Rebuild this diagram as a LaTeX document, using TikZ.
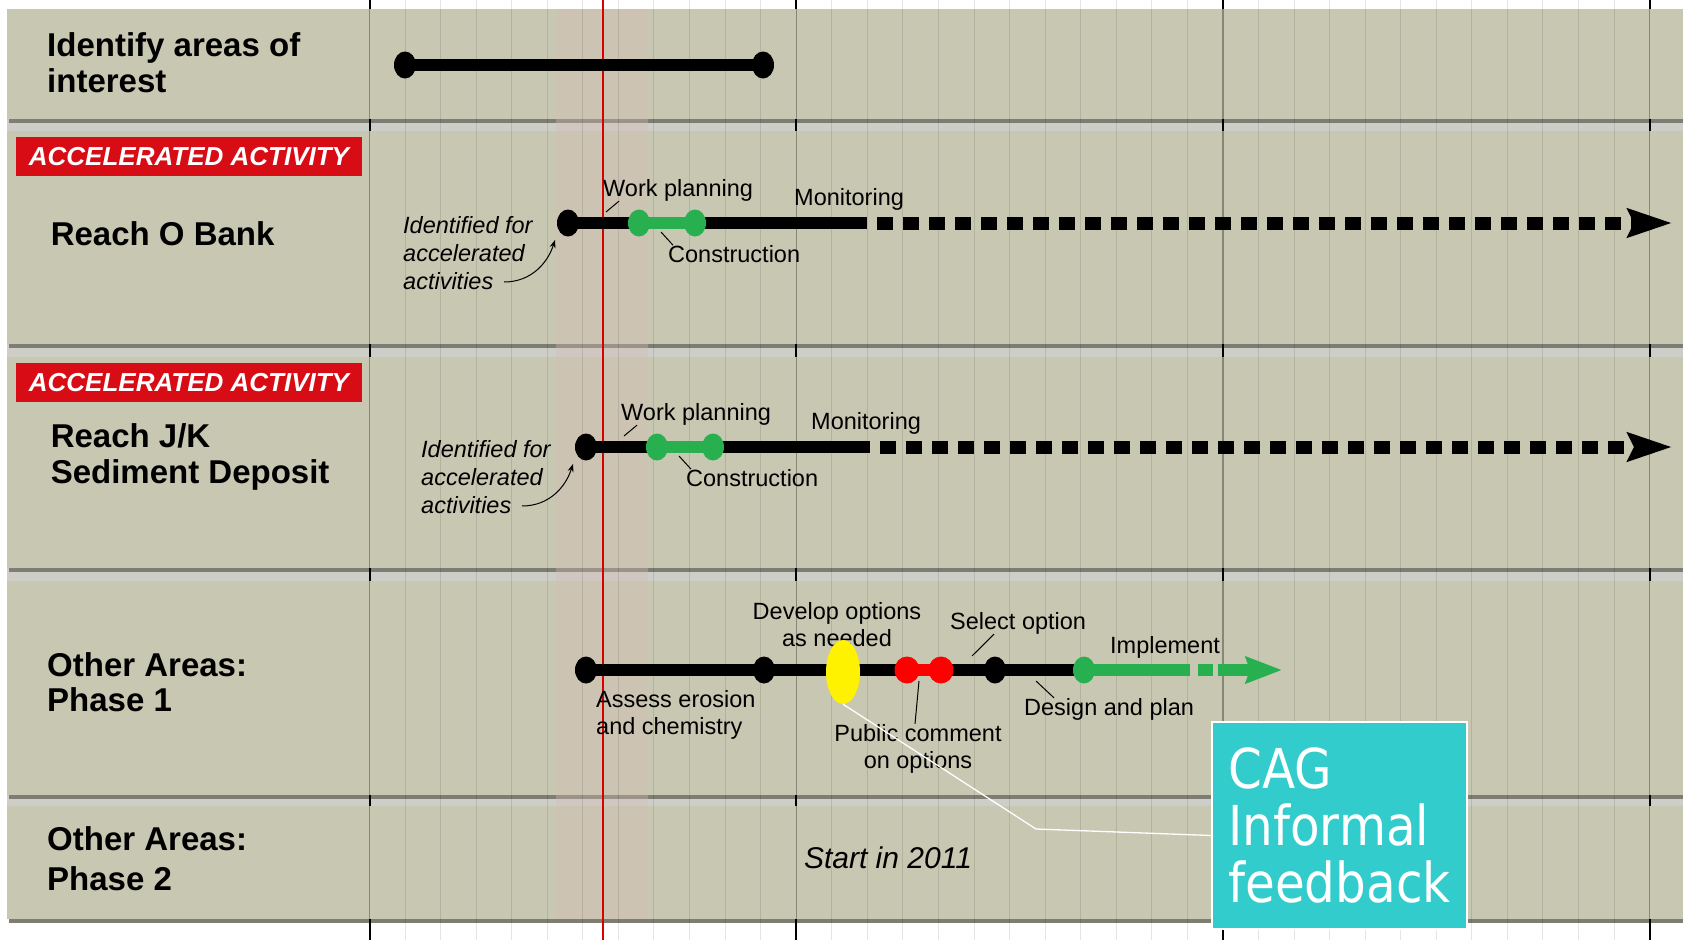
\documentclass[tikz,border=0pt]{standalone}
\usepackage{fontspec}
\setmainfont{Liberation Sans}
\newfontfamily\cagfont[FakeStretch=0.88]{DejaVu Sans}
\usetikzlibrary{shapes.geometric,arrows.meta}

\definecolor{panelfill}{RGB}{200,199,178}
\definecolor{gapgray}{RGB}{206,206,201}
\definecolor{panelshadow}{RGB}{125,125,115}
\definecolor{gridmajor}{RGB}{135,135,120}
\definecolor{accred}{RGB}{215,12,20}
\definecolor{bargreen}{RGB}{40,176,80}
\definecolor{cagteal}{RGB}{51,204,204}
\definecolor{markyellow}{RGB}{255,242,0}
\definecolor{pinktint}{RGB}{212,190,178}

\pgfdeclarelayer{back}
\pgfdeclarelayer{bars}
\pgfsetlayers{back,bars,main}

\begin{document}
\begin{tikzpicture}[x=1pt,y=-1pt,
	title/.style={anchor=west,align=left,inner sep=0pt,font=\fontsize{33}{36}\selectfont\bfseries},
	lbl/.style={inner sep=0pt,font=\fontsize{23.5}{27}\selectfont},
	ilbl/.style={inner sep=0pt,anchor=west,align=left,font=\fontsize{23.5}{28}\selectfont\itshape},
	accbox/.style={fill=accred,text=white,minimum width=346pt,minimum height=39pt,inner sep=0pt,font=\fontsize{26}{28}\selectfont\bfseries\itshape},
	bdot/.style={ellipse,fill=black,minimum width=22pt,minimum height=27pt,inner sep=0pt},
	gdot/.style={bdot,fill=bargreen},
	rdot/.style={bdot,fill=red,minimum width=25pt},
	bar/.style={line width=12pt},
	gbar/.style={bar,bargreen},
	rbar/.style={bar,red},
	future/.style={line width=13pt,dash pattern=on 16pt off 10pt,dash phase=16pt,-{Stealth[length=44pt,width=28pt,inset=6pt]}},
	leader/.style={line width=1pt},
]
	\useasboundingbox (0,0) rectangle (1689,940);

	% panels and grid
	\begin{pgfonlayer}{back}
		\fill[white] (0,0) rectangle (1689,940);
		\fill[gapgray] (7,9) rectangle (1683,919);
		\foreach \top/\bot in {9/119,131/344,357/568,581/795,806/919} {
			\fill[panelshadow] (9,\bot) rectangle (1683,\bot+4);
			\fill[panelfill] (7,\top) rectangle (1683,\bot);
		}
		\fill[pinktint,opacity=0.35] (556,9) rectangle (648,919);
		\foreach \m in {0,...,36}
			\draw[black,opacity=0.1,line width=1pt] ({369.5+\m*35.56},0) -- ++(0,940);
		\foreach \k in {0,...,3} {
			\draw[gridmajor,line width=1.2pt] ({369.5+\k*426.7},0) -- ++(0,940);
			\foreach \a/\b in {0/9,119/131,344/357,568/581,795/806,919/940}
				\draw[black,line width=2pt] ({369.5+\k*426.7},\a) -- ({369.5+\k*426.7},\b);
		}
		\draw[red!85!black,line width=1.5pt] (603,0) -- (603,940);
	\end{pgfonlayer}

	% row titles
	\node[title] (t1) at (47,63) {Identify areas of\\interest};
	\node[accbox] (acc2) at (189,156.5) {ACCELERATED ACTIVITY};
	\node[title] (t2) at (50.6,234) {Reach O Bank};
	\node[accbox] (acc3) at (189,382.5) {ACCELERATED ACTIVITY};
	\node[title] (t3) at (50.6,456.5) {Reach J/K\\Sediment Deposit};
	\node[title,font=\fontsize{33}{35}\selectfont\bfseries] (t4) at (47,682.5) {Other Areas:\\Phase 1};
	\node[title,font=\fontsize{33}{40}\selectfont\bfseries] (t5) at (47,859) {Other Areas:\\Phase 2};

	% row 1
	\node[bdot] (a0) at (405,65) {};
	\node[bdot] (a1) at (763,65) {};

	% row 2
	\node[bdot] (o0) at (568,223) {};
	\node[gdot] (o1) at (639,223) {};
	\node[gdot] (o2) at (695,223) {};
	\coordinate (o3) at (867,223);
	\coordinate (o4) at (1672,223);
	\node[lbl,anchor=west] (wp2) at (603,190) {Work planning};
	\node[lbl,anchor=west] (mo2) at (794,199) {Monitoring};
	\node[lbl,anchor=west] (co2) at (668,254) {Construction};
	\node[ilbl] (id2) at (403,253) {Identified for\\accelerated\\activities};
	\coordinate (wp2x) at (606,212);
	\coordinate (co2x) at (661,232);
	\coordinate (id2x) at (504,282);

	% row 3
	\node[bdot] (j0) at (586,447) {};
	\node[gdot] (j1) at (657,447) {};
	\node[gdot] (j2) at (713,447) {};
	\coordinate (j3) at (870,447);
	\coordinate (j4) at (1672,447);
	\node[lbl,anchor=west] (wp3) at (621,414) {Work planning};
	\node[lbl,anchor=west] (mo3) at (811,423) {Monitoring};
	\node[lbl,anchor=west] (co3) at (686,478) {Construction};
	\node[ilbl] (id3) at (421,477) {Identified for\\accelerated\\activities};
	\coordinate (wp3x) at (624,436);
	\coordinate (co3x) at (679,456);
	\coordinate (id3x) at (522,506);

	% row 4
	\node[bdot] (p0) at (586,670) {};
	\node[bdot] (p1) at (764,670) {};
	\node[rdot] (p2) at (907,670) {};
	\node[rdot] (p3) at (941,670) {};
	\node[bdot] (p4) at (995,670) {};
	\node[gdot] (p5) at (1084,670) {};
	\coordinate (p6) at (1190,670);
	\coordinate (p7) at (1282,670);
	\node[lbl,align=center] (dev) at (837,624.5) {Develop options\\as needed};
	\node[lbl,anchor=west] (sel) at (950,623) {Select option};
	\node[lbl,anchor=west] (imp) at (1110,647) {Implement};
	\node[lbl,anchor=west,align=left] (ass) at (596,714.5) {Assess erosion\\and chemistry};
	\node[lbl,align=center] (pub) at (918,748.5) {Public comment\\on options};
	\node[lbl,anchor=west] (des) at (1024,709) {Design and plan};
	\coordinate (selx) at (972,656);
	\coordinate (pubx) at (919,681);
	\coordinate (desx) at (1036,681);
	\node[ellipse,fill=markyellow,minimum width=34pt,minimum height=64pt,inner sep=0pt] (yel) at (843,672) {};

	% row 5
	\node[font=\fontsize{30}{32}\selectfont\itshape] (st5) at (888,858) {Start in 2011};

	% bars
	\begin{pgfonlayer}{bars}
		\draw[bar] (a0.center) -- (a1.center);
		\draw[bar] (o0.center) -- (o3);
		\draw[future] (o3) -- (o4);
		\draw[gbar] (o1.center) -- (o2.center);
		\draw[bar] (j0.center) -- (j3);
		\draw[future] (j3) -- (j4);
		\draw[gbar] (j1.center) -- (j2.center);
		\draw[bar] (p0.center) -- (p5.center);
		\draw[rbar] (p2.center) -- (p3.center);
		\draw[gbar] (p5.center) -- (p6);
		\draw[gbar,dash pattern=on 0pt off 8pt on 15pt off 5pt on 80pt,-{Stealth[length=36pt,width=26pt,inset=4pt]}] (p6) -- (p7);
	\end{pgfonlayer}

	% leaders
	\draw[leader] ([xshift=16pt]wp2.south west) -- (wp2x);
	\draw[leader] (co2x) -- ([xshift=5pt]co2.north west);
	\draw[leader,-{Stealth[length=8pt,width=6pt]}] (id2x) .. controls (532,282) and (548,262) .. ([xshift=-13pt,yshift=-17pt]o0.center);
	\draw[leader] ([xshift=16pt]wp3.south west) -- (wp3x);
	\draw[leader] (co3x) -- ([xshift=5pt]co3.north west);
	\draw[leader,-{Stealth[length=8pt,width=6pt]}] (id3x) .. controls (550,506) and (566,486) .. ([xshift=-13pt,yshift=-17pt]j0.center);
	\draw[leader] ([xshift=44pt]sel.south west) -- (selx);
	\draw[leader] (pubx) -- ([xshift=-3pt]pub.north);
	\draw[leader] (desx) -- ([xshift=30pt]des.north west);

	% feedback box
	\node[fill=cagteal,draw=white,line width=1.5pt,minimum width=255pt,minimum height=207pt,text=white,align=left,font=\cagfont\fontsize{55}{57}\selectfont] (cag) at (1339.5,825.5) {CAG\\Informal\\feedback};
	\coordinate (cagbend) at (1036,829);
	\draw[white,line width=1.3pt] (yel.south) -- (cagbend) -- ([yshift=-10pt]cag.west);
\end{tikzpicture}
\end{document}
